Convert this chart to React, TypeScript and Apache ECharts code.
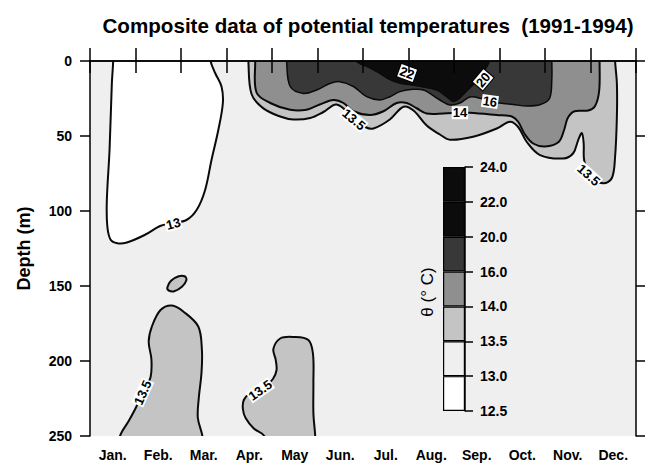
import React, { useEffect, useRef } from 'react';
import * as echarts from 'echarts';

const FONT = '"Liberation Sans", Arial, Helvetica, sans-serif';

const titleText = 'Composite data of potential temperatures  (1991-1994)';
const months = ['Jan.', 'Feb.', 'Mar.', 'Apr.', 'May', 'Jun.', 'Jul.', 'Aug.', 'Sep.', 'Oct.', 'Nov.', 'Dec.'];
const depthMin = 0;
const depthMax = 250;
const depthStep = 50;

// colour bar: class boundaries (bottom to top) and class fills
const cbLabels = ['12.5', '13.0', '13.5', '14.0', '16.0', '20.0', '22.0', '24.0'];
const cbColors = ['#ffffff', '#efefef', '#c4c4c4', '#8f8f8f', '#383838', '#0c0c0c', '#0c0c0c'];

// isotherm outlines: [month position (0 = start of Jan, 12 = end of Dec), depth m]
const iso13Winter = [[0.51, -8], [0.51, 0], [0.48, 15], [0.43, 59], [0.37, 93], [0.38, 110], [0.45, 119], [0.6, 121.5], [0.81, 121], [1.2, 116], [1.54, 110], [1.8, 108], [2.12, 106], [2.35, 99], [2.53, 86], [2.67, 66], [2.82, 46], [2.92, 28], [2.89, 17], [2.75, 8], [2.65, 0], [2.65, -8]];
const iso135Spot = [[1.7, 151], [1.78, 146.5], [1.95, 143.5], [2.08, 143.5], [2.12, 146], [2.02, 150.5], [1.85, 153.5], [1.73, 153]];
const iso135Feb = [[0.66, 258], [0.66, 250], [0.85, 240], [1.01, 231], [1.2, 218], [1.33, 211], [1.35, 199], [1.29, 187], [1.36, 177], [1.55, 166], [1.8, 163], [2.05, 167], [2.38, 177], [2.46, 193], [2.45, 208], [2.39, 225], [2.37, 238], [2.47, 250], [2.47, 258]];
const iso135May = [[3.83, 258], [3.83, 250], [3.6, 245], [3.42, 238], [3.36, 232], [3.38, 226], [3.5, 222], [3.78, 219], [4.02, 212], [4.1, 206], [4.08, 199], [4.03, 192], [4.18, 185], [4.47, 184], [4.8, 186], [4.9, 195], [4.91, 215], [4.91, 235], [4.95, 250], [4.95, 258]];
const iso135Top = [[3.48, -8], [3.48, 0], [3.55, 22], [3.81, 31.6], [4.18, 37], [4.47, 39], [4.84, 38], [5.13, 34], [5.42, 29], [5.8, 38], [6.05, 44], [6.23, 45], [6.59, 39], [6.89, 30.5], [7.11, 33], [7.4, 43], [7.69, 49], [7.91, 52.5], [8.42, 50.5], [8.94, 45], [9.23, 40.5], [9.41, 44], [9.6, 54], [9.89, 62.7], [10.4, 65], [10.62, 61.5], [10.73, 52.7], [10.81, 48], [10.85, 55], [10.86, 66], [10.98, 77], [11.28, 81.5], [11.47, 78], [11.54, 64], [11.58, 37], [11.58, 15], [11.54, 0], [11.54, -8]];
const iso14Top = [[3.63, -8], [3.63, 0], [3.66, 21], [3.96, 28], [4.4, 32.5], [4.76, 32.5], [5.05, 29], [5.35, 26], [5.57, 28], [5.79, 33.5], [6.15, 36], [6.45, 33.5], [6.74, 28], [6.96, 28], [7.18, 31.5], [7.4, 35], [7.77, 35], [8.13, 34.5], [8.35, 34.5], [8.94, 36], [9.27, 37], [9.41, 40.5], [9.56, 49], [9.74, 55], [10.0, 57], [10.3, 54], [10.42, 46], [10.5, 38], [10.65, 33.5], [10.95, 33], [11.1, 30], [11.19, 20], [11.2, 0], [11.2, -8]];
const iso16Top = [[4.32, -8], [4.32, 0], [4.4, 17], [4.69, 21.6], [4.98, 19.3], [5.27, 15], [5.49, 13.8], [5.79, 17], [6.08, 23.8], [6.37, 26], [6.59, 23.8], [6.81, 20.4], [7.05, 19], [7.33, 19.3], [7.69, 26], [7.91, 29.3], [8.13, 28], [8.35, 24], [8.6, 25], [8.79, 27], [9.0, 28], [9.3, 29], [9.6, 30], [9.9, 29], [10.1, 25], [10.15, 12], [10.15, 0], [10.15, -8]];
const iso20Top = [[5.85, -8], [5.85, 0], [6.1, 4], [6.35, 8], [6.59, 12.5], [6.81, 15], [7.05, 16], [7.25, 17], [7.62, 19.5], [7.84, 24], [7.98, 27], [8.1, 25.5], [8.25, 21], [8.45, 15], [8.6, 10], [8.72, 4], [8.78, 0], [8.78, -8]];

// contour labels: [month position, depth, text, angle in degrees]
const contourLabels: [number, number, string, number][] = [
  [1.83, 108.5, '13', 15],
  [1.16, 221, '13.5', 66],
  [3.74, 219.5, '13.5', 35],
  [5.8, 39, '13.5', -40],
  [8.13, 34.5, '14', 0],
  [8.79, 27, '16', -8],
  [8.64, 12.5, '20', 50],
  [6.97, 8, '22', -20],
  [10.96, 76, '13.5', -42],
];

const regions = [iso13Winter, iso135Spot, iso135Feb, iso135May, iso135Top, iso14Top, iso16Top, iso20Top];
const regionFill = ['#ffffff', '#c4c4c4', '#c4c4c4', '#c4c4c4', '#c4c4c4', '#8f8f8f', '#383838', '#0c0c0c'];
const regionLine = [2, 2, 2, 2, 2, 2, 1.5, 1.2];
const boxedLabels = ['20', '22'];

export default function App() {
  const ref = useRef<HTMLDivElement>(null);
  useEffect(() => {
    const chart = echarts.init(ref.current as HTMLDivElement, null, { renderer: 'svg' });
    const axisLineStyle = { color: '#000', width: 1.5 };
    const option: any = {
      animation: false,
      backgroundColor: '#ffffff',
      title: {
        text: titleText,
        left: 363,
        top: 10,
        textAlign: 'center',
        textStyle: { fontSize: 20.6, fontWeight: 'bold', fontFamily: FONT, color: '#000' },
      },
      grid: [
        { left: 90, top: 61, width: 546, height: 375, show: true, backgroundColor: '#efefef', borderWidth: 0 },
        { left: 443, top: 167, width: 22, height: 244, show: false },
      ],
      xAxis: [
        {
          type: 'category', gridIndex: 0, data: months, position: 'bottom', z: 10,
          axisLine: { show: true, lineStyle: axisLineStyle },
          axisTick: { show: true, inside: false, length: 12, lineStyle: axisLineStyle },
          axisLabel: { color: '#000', fontSize: 14, fontWeight: 'bold', fontFamily: FONT, margin: 12 },
          splitLine: { show: false },
        },
        {
          type: 'category', gridIndex: 0, data: months, position: 'top', z: 10,
          axisLine: { show: true, lineStyle: axisLineStyle },
          axisTick: { show: true, inside: false, length: 13, lineStyle: axisLineStyle },
          axisLabel: { show: false },
          splitLine: { show: false },
        },
        { type: 'value', gridIndex: 0, min: 0, max: 12, show: false },
        { type: 'category', gridIndex: 1, data: ['θ'], show: false },
      ],
      yAxis: [
        {
          type: 'value', gridIndex: 0, inverse: true, min: depthMin, max: depthMax, interval: depthStep, position: 'left', z: 10,
          axisLine: { show: true, lineStyle: axisLineStyle },
          axisTick: { show: true, inside: false, length: 10, lineStyle: axisLineStyle },
          axisLabel: { color: '#000', fontSize: 14, fontWeight: 'bold', fontFamily: FONT, margin: 18 },
          splitLine: { show: false },
          name: 'Depth (m)', nameLocation: 'middle', nameGap: 57, nameRotate: 90,
          nameTextStyle: { color: '#000', fontSize: 18, fontWeight: 'bold', fontFamily: FONT },
        },
        {
          type: 'value', gridIndex: 0, inverse: true, min: depthMin, max: depthMax, interval: depthStep, position: 'right', z: 10,
          axisLine: { show: true, lineStyle: axisLineStyle },
          axisTick: { show: true, inside: false, length: 9, lineStyle: axisLineStyle },
          axisLabel: { show: false },
          splitLine: { show: false },
        },
        {
          type: 'value', gridIndex: 1, min: 0, max: cbLabels.length - 1, interval: 1, position: 'right', z: 10,
          axisLine: { show: true, lineStyle: axisLineStyle },
          axisTick: { show: true, inside: false, length: 8, lineStyle: axisLineStyle },
          axisLabel: { color: '#000', fontSize: 14, fontWeight: 'bold', fontFamily: FONT, margin: 15, formatter: (v: number) => cbLabels[v] },
          splitLine: { show: false },
        },
      ],
      graphic: [
        {
          type: 'text', x: 427, y: 292, rotation: Math.PI / 2,
          style: { text: 'θ (° C)', font: `17px ${FONT}`, fill: '#000', align: 'center', verticalAlign: 'middle' },
        },
      ],
      series: [
        {
          type: 'custom',
          coordinateSystem: 'cartesian2d',
          xAxisIndex: 2,
          yAxisIndex: 0,
          clip: true,
          silent: true,
          z: 1,
          data: regions.map((r, i) => [r[0][0], r[0][1], i]),
          renderItem: (params: any, api: any) => {
            const i = params.dataIndex;
            const pts = regions[i].map((p) => api.coord(p));
            return {
              type: 'polygon',
              shape: { points: pts, smooth: 0.35 },
              style: { fill: regionFill[i], stroke: '#0a0a0a', lineWidth: regionLine[i] },
            };
          },
        },
        {
          type: 'custom',
          coordinateSystem: 'cartesian2d',
          xAxisIndex: 2,
          yAxisIndex: 0,
          silent: true,
          z: 3,
          data: contourLabels.map((l) => [l[0], l[1]]),
          renderItem: (params: any, api: any) => {
            const l = contourLabels[params.dataIndex];
            const c = api.coord([l[0], l[1]]);
            const boxed = boxedLabels.indexOf(l[2]) >= 0;
            return {
              type: 'text',
              x: c[0],
              y: c[1],
              rotation: (l[3] * Math.PI) / 180,
              style: {
                text: l[2],
                font: `bold 13px ${FONT}`,
                fill: '#000',
                align: 'center',
                verticalAlign: 'middle',
                backgroundColor: '#ffffff',
                padding: [0, 1, 0, 1],
                borderColor: boxed ? '#000' : undefined,
                borderWidth: boxed ? 1 : 0,
              },
            };
          },
        },
        ...cbColors.map((col) => ({
          type: 'bar',
          xAxisIndex: 3,
          yAxisIndex: 2,
          stack: 'cb',
          barWidth: '100%',
          silent: true,
          data: [1],
          itemStyle: { color: col, borderColor: '#000', borderWidth: 1.2 },
        })),
      ],
    };
    chart.setOption(option);
    return () => chart.dispose();
  }, []);
  return <div ref={ref} style={{ position: 'absolute', left: 0, top: 0, width: 649, height: 467 }} />;
}
